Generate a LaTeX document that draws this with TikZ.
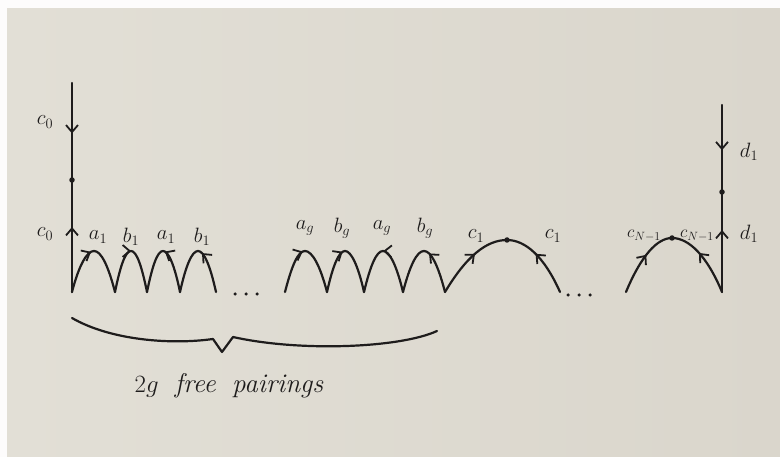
\documentclass[tikz,border=0pt]{standalone}
\usetikzlibrary{arrows.meta,decorations.markings}
\definecolor{paper}{RGB}{226,223,214}
\definecolor{paperdark}{RGB}{218,214,204}
\definecolor{ink}{RGB}{30,28,28}
\tikzset{
  pen/.style={draw=ink,line width=2.2pt,line cap=round,line join=round},
  fwd/.style={postaction={decorate,decoration={markings,
      mark=at position #1 with {\arrow[ink]{Straight Barb[length=7pt,width=12pt,line width=1.8pt]}}}}},
  bwd/.style={postaction={decorate,decoration={markings,
      mark=at position #1 with {\arrowreversed[ink]{Straight Barb[length=7pt,width=12pt,line width=1.8pt]}}}}},
  lab/.style={text=ink,font=\fontsize{21}{24}\selectfont,inner sep=1pt},
  vertex/.style={circle,fill=ink,inner sep=0pt,minimum size=5.5pt},
}
% parabolic arch from #2 over the top #3 down to #4; #5 = a third of the half width
\newcommand\archpath[5][]{%
  \draw[pen,#1] (#2) .. controls +(#5,-27) and +(-#5,0) .. (#3)
                     .. controls +(#5,0) and +(-#5,-27) .. (#4);}
\begin{document}
\begin{tikzpicture}[x=1pt,y=-1pt]
  % sheet of paper with a light strip along the top and left
  \fill[white!92!paper] (0,0) rectangle (780,457);
  \shade[left color=paper,right color=paperdark] (7,9) rectangle (780,457);
  \useasboundingbox (0,0) rectangle (780,457);

  % base points of the arcs
  \foreach \n/\x in {p0/72,p1/115,p2/147,p3/180,p4/216,
                     q0/285,q1/327,q2/364,q3/403,q4/445,
                     r1/560,s0/626,s1/722}
    \coordinate (\n) at (\x,292);
  % tops of the small arcs
  \foreach \n/\x in {t1/94,t2/131,t3/163,t4/198,u1/305,u2/345,u3/383,u4/424}
    \coordinate (\n) at (\x,251);

  % left vertical edge
  \coordinate (ltop) at (72,83);
  \node[vertex] (ldot) at (72,180) {};
  \draw[pen,fwd=0.52] (ltop) -- (ldot.center);
  \draw[pen,fwd=0.58] (p0) -- (ldot.center);
  \node[lab] (lc0a) at (45,122) {$c_0$};
  \node[lab] (lc0b) at (45,234) {$c_0$};

  % right vertical edge
  \coordinate (rtop) at (722,105);
  \node[vertex] (rdot) at (722,192) {};
  \draw[pen,fwd=0.52] (rtop) -- (rdot.center);
  \draw[pen,fwd=0.62] (s1) -- (rdot.center);
  \node[lab] (rd1a) at (749,152) {$d_1$};
  \node[lab] (rd1b) at (749,234) {$d_1$};

  % first block of small arcs
  \archpath[fwd=0.47]{p0}{t1}{p1}{7}
  \archpath[fwd=0.5]{p1}{t2}{p2}{5.5}
  \archpath[bwd=0.52]{p2}{t3}{p3}{5.5}
  \archpath[bwd=0.55]{p3}{t4}{p4}{6}
  \node[lab] (la1a) at (98,237) {$a_1$};
  \node[lab] (lb1a) at (131,237) {$b_1$};
  \node[lab] (la1b) at (166,237) {$a_1$};
  \node[lab] (lb1b) at (202,237) {$b_1$};

  % second block of small arcs
  \archpath[fwd=0.47]{q0}{u1}{q1}{7}
  \archpath[fwd=0.47]{q1}{u2}{q2}{6}
  \archpath[bwd=0.5]{q2}{u3}{q3}{6.5}
  \archpath[bwd=0.56]{q3}{u4}{q4}{7}
  \node[lab] (lag1) at (305,228) {$a_g$};
  \node[lab] (lbg1) at (342,228) {$b_g$};
  \node[lab] (lag2) at (382,228) {$a_g$};
  \node[lab] (lbg2) at (425,228) {$b_g$};

  % wide arc c_1
  \node[vertex] (ctop) at (507,240) {};
  \draw[pen,fwd=0.3,bwd=0.72] (q4) .. controls +(21,-35) and +(-21,0) .. (ctop.center)
        .. controls +(18,0) and +(-16,-36) .. (r1);
  \node[lab] (lc1a) at (476,236) {$c_1$};
  \node[lab] (lc1b) at (553,236) {$c_1$};

  % wide arc c_{N-1}
  \node[vertex] (ntop) at (672,238) {};
  \draw[pen,fwd=0.28,bwd=0.7] (s0) .. controls +(15,-36) and +(-15,0) .. (ntop.center)
        .. controls +(17,0) and +(-15,-36) .. (s1);
  \node[lab,font=\fontsize{17}{20}\selectfont] (lcn1) at (644,236) {$c_{N-1}$};
  \node[lab,font=\fontsize{17}{20}\selectfont] (lcn2) at (697,236) {$c_{N-1}$};

  % ellipses between the blocks
  \foreach \x [count=\i] in {235,246,257}
    \node[vertex,minimum size=3.5pt] (dA\i) at (\x,294) {};
  \foreach \x [count=\i] in {568,579,590}
    \node[vertex,minimum size=3.5pt] (dB\i) at (\x,295) {};

  % brace under the free pairings
  \coordinate (bl) at (72,318);
  \coordinate (br) at (437,331);
  \draw[pen] (bl) .. controls (110,340) and (170,345) .. (213,339)
             -- (222,352) -- (233,337)
             .. controls (300,352) and (400,348) .. (br);
  \node[lab,font=\fontsize{27}{30}\selectfont] (free) at (229,386) {$2g$\ \ \textit{free}\ \ \textit{pairings}};
\end{tikzpicture}
\end{document}
